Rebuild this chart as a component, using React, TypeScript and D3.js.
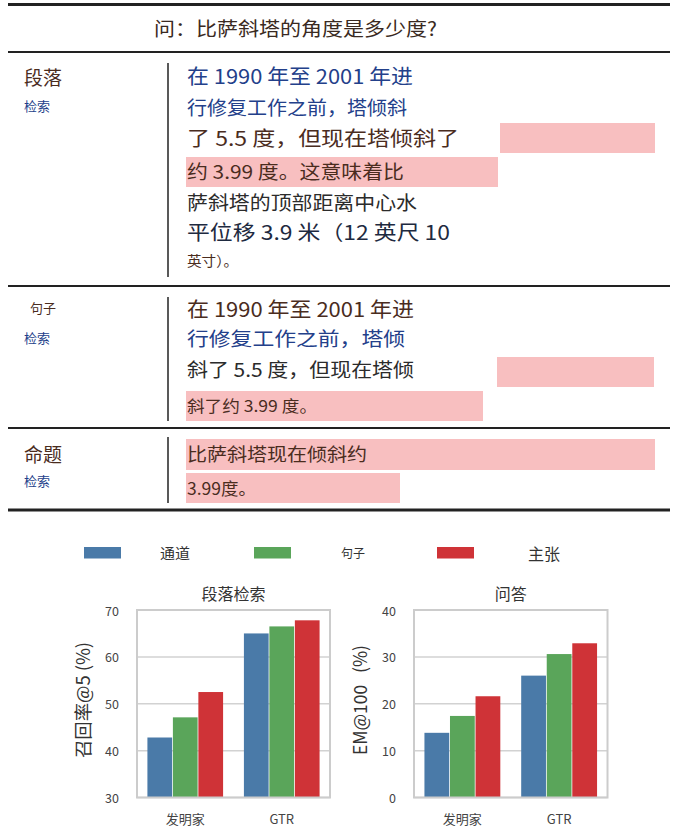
import React from 'react';
import * as d3 from 'd3';

// ---- data ----
const question = '问：比萨斜塔的角度是多少度?';

const passageLines = [
  '在 1990 年至 2001 年进',
  '行修复工作之前，塔倾斜',
  '了 5.5 度，但现在塔倾斜了',
  '约 3.99 度。这意味着比',
  '萨斜塔的顶部距离中心水',
  '平位移 3.9 米（12 英尺 10',
  '英寸）。',
];
const sentenceLines = [
  '在 1990 年至 2001 年进',
  '行修复工作之前，塔倾',
  '斜了 5.5 度，但现在塔倾',
  '斜了约 3.99 度。',
];
const claimLines = ['比萨斜塔现在倾斜约', '3.99度。'];

const categories = ['发明家', 'GTR'];
const seriesNames = ['通道', '句子', '主张'];
const seriesColors = ['#4a7aa8', '#5aa55a', '#cf3337'];

// rows = series, columns = categories
const recallValues = [
  [42.8, 65.0],
  [47.1, 66.5],
  [52.5, 67.8],
];
const emValues = [
  [13.8, 26.0],
  [17.4, 30.6],
  [21.6, 32.9],
];
const recallTicks = [30, 40, 50, 60, 70];
const emTicks = [0, 10, 20, 30, 40];

const FONT = '"Noto Sans CJK SC", "Noto Sans", sans-serif';
const PINK = '#f8bfc0';
const BROWN = '#4a2c1e';
const BLUE = '#23408a';
const DARK = '#2b2b2b';

type LineStyle = { y: number; size: number; color: string; w: number };

const passageStyle: LineStyle[] = [
  { y: 75, size: 20, color: BLUE, w: 226 },
  { y: 106, size: 19, color: BLUE, w: 220 },
  { y: 137, size: 20, color: BROWN, w: 272 },
  { y: 170, size: 19, color: BROWN, w: 217 },
  { y: 201, size: 19, color: DARK, w: 230 },
  { y: 231, size: 20, color: '#1e2a40', w: 263 },
  { y: 260, size: 14, color: BROWN, w: 51 },
];
const sentenceStyle: LineStyle[] = [
  { y: 308, size: 20, color: BROWN, w: 227 },
  { y: 337, size: 19, color: BLUE, w: 218 },
  { y: 368, size: 19, color: DARK, w: 227 },
  { y: 405, size: 16, color: BROWN, w: 130 },
];
const claimStyle: LineStyle[] = [
  { y: 453, size: 18, color: BROWN, w: 180 },
  { y: 487, size: 17, color: BROWN, w: 69 },
];

const TextLines: React.FC<{ lines: string[]; styles: LineStyle[] }> = ({ lines, styles }) => (
  <g>
    {lines.map((t, i) => (
      <text
        key={i}
        x={187}
        y={styles[i].y}
        fontSize={styles[i].size}
        fill={styles[i].color}
        dominantBaseline="central"
        textLength={styles[i].w}
        lengthAdjust="spacingAndGlyphs"
      >
        {t}
      </text>
    ))}
  </g>
);

interface BarPanelProps {
  x0: number;
  x1: number;
  title: string;
  yLabel: string;
  yLabelLen: number;
  values: number[][];
  ticks: number[];
}

const BarPanel: React.FC<BarPanelProps> = ({ x0, x1, title, yLabel, yLabelLen, values, ticks }) => {
  const top = 610;
  const bottom = 797.5;
  const y = d3.scaleLinear().domain([ticks[0], ticks[ticks.length - 1]]).range([bottom, top]);
  const xOuter = d3.scaleBand<string>().domain(categories).range([x0, x1]).paddingInner(0.2).paddingOuter(0.1);
  const xInner = d3.scaleBand<string>().domain(seriesNames).range([0, xOuter.bandwidth()]).padding(0.03);

  return (
    <g fontFamily={FONT}>
      <text x={(x0 + x1) / 2} y={593} fontSize={16} fill="#333" textAnchor="middle" dominantBaseline="central">
        {title}
      </text>
      {ticks.map(t => (
        <g key={t}>
          <line x1={x0} x2={x1} y1={y(t)} y2={y(t)} stroke="#d2d2d2" strokeWidth={1.5} />
          <text x={x0 - 18} y={y(t)} fontSize={12.5} fill="#444" textAnchor="end" dominantBaseline="central">
            {t}
          </text>
        </g>
      ))}
      {values.map((row, si) =>
        row.map((v, ci) => (
          <rect
            key={`${si}-${ci}`}
            x={(xOuter(categories[ci]) ?? 0) + (xInner(seriesNames[si]) ?? 0)}
            y={y(v)}
            width={xInner.bandwidth()}
            height={bottom - y(v)}
            fill={seriesColors[si]}
          />
        ))
      )}
      <rect x={x0} y={top} width={x1 - x0} height={bottom - top} fill="none" stroke="#cccccc" strokeWidth={2} />
      {categories.map(c => (
        <text
          key={c}
          x={(xOuter(c) ?? 0) + xOuter.bandwidth() / 2}
          y={818}
          fontSize={13}
          fill="#444"
          textAnchor="middle"
          dominantBaseline="central"
        >
          {c}
        </text>
      ))}
      <text
        transform={`translate(${x0 - 55},${700}) rotate(-90)`}
        fontSize={18}
        fill="#333"
        textAnchor="middle"
        dominantBaseline="central"
        textLength={yLabelLen}
        lengthAdjust="spacingAndGlyphs"
        style={{ whiteSpace: 'pre' }}
      >
        {yLabel}
      </text>
    </g>
  );
};

const legendLayout = [
  { rx: 84, tx: 160, size: 15 },
  { rx: 254, tx: 341, size: 12 },
  { rx: 437, tx: 528, size: 16 },
];

export default function App() {
  return (
    <div style={{ position: 'absolute', left: 0, top: 0 }}>
      <svg width={684} height={838} style={{ display: 'block', background: '#fff' }} fontFamily={FONT}>
        {/* rules */}
        <line x1={8} x2={670} y1={4.5} y2={4.5} stroke="#222" strokeWidth={3} />
        <line x1={8} x2={670} y1={52} y2={52} stroke="#222" strokeWidth={2} />
        <line x1={8} x2={670} y1={286} y2={286} stroke="#222" strokeWidth={2} />
        <line x1={8} x2={670} y1={428} y2={428} stroke="#222" strokeWidth={2} />
        <line x1={8} x2={670} y1={510} y2={510} stroke="#222" strokeWidth={3} />

        <text x={154} y={27} fontSize={19} fill="#3a2a22" dominantBaseline="central" textLength={283} lengthAdjust="spacingAndGlyphs">
          {question}
        </text>

        {/* section labels */}
        <text x={24} y={76} fontSize={19} fill={BROWN} dominantBaseline="central">段落</text>
        <text x={24} y={105} fontSize={13} fill={BLUE} dominantBaseline="central">检索</text>
        <text x={30} y={307.5} fontSize={13} fill={BROWN} dominantBaseline="central">句子</text>
        <text x={24} y={337} fontSize={13} fill={BLUE} dominantBaseline="central">检索</text>
        <text x={24} y={453} fontSize={19} fill={BROWN} dominantBaseline="central">命题</text>
        <text x={24} y={480} fontSize={13} fill={BLUE} dominantBaseline="central">检索</text>

        {/* vertical separators */}
        <line x1={168} x2={168} y1={63} y2={277} stroke="#222" strokeWidth={1.5} />
        <line x1={168} x2={168} y1={297} y2={421} stroke="#222" strokeWidth={1.5} />
        <line x1={168} x2={168} y1={437} y2={503} stroke="#222" strokeWidth={1.5} />

        {/* highlights */}
        <rect x={500} y={123} width={155} height={30} fill={PINK} />
        <rect x={186} y={157} width={312} height={30} fill={PINK} />
        <rect x={497} y={357} width={157} height={30} fill={PINK} />
        <rect x={186} y={391} width={297} height={30} fill={PINK} />
        <rect x={186} y={439} width={469} height={31} fill={PINK} />
        <rect x={186} y={473} width={214} height={30} fill={PINK} />

        <TextLines lines={passageLines} styles={passageStyle} />
        <TextLines lines={sentenceLines} styles={sentenceStyle} />
        <TextLines lines={claimLines} styles={claimStyle} />

        {/* legend */}
        {seriesNames.map((s, i) => (
          <g key={s}>
            <rect x={legendLayout[i].rx} y={547} width={37} height={11.5} fill={seriesColors[i]} />
            <text x={legendLayout[i].tx} y={552.5} fontSize={legendLayout[i].size} fill="#333" dominantBaseline="central">
              {s}
            </text>
          </g>
        ))}

        <BarPanel x0={137} x1={330} title="段落检索" yLabel="召回率@5 (%)" yLabelLen={116} values={recallValues} ticks={recallTicks} />
        <BarPanel x0={414} x1={607.5} title="问答" yLabel="EM@100   (%)" yLabelLen={110} values={emValues} ticks={emTicks} />
      </svg>
    </div>
  );
}
